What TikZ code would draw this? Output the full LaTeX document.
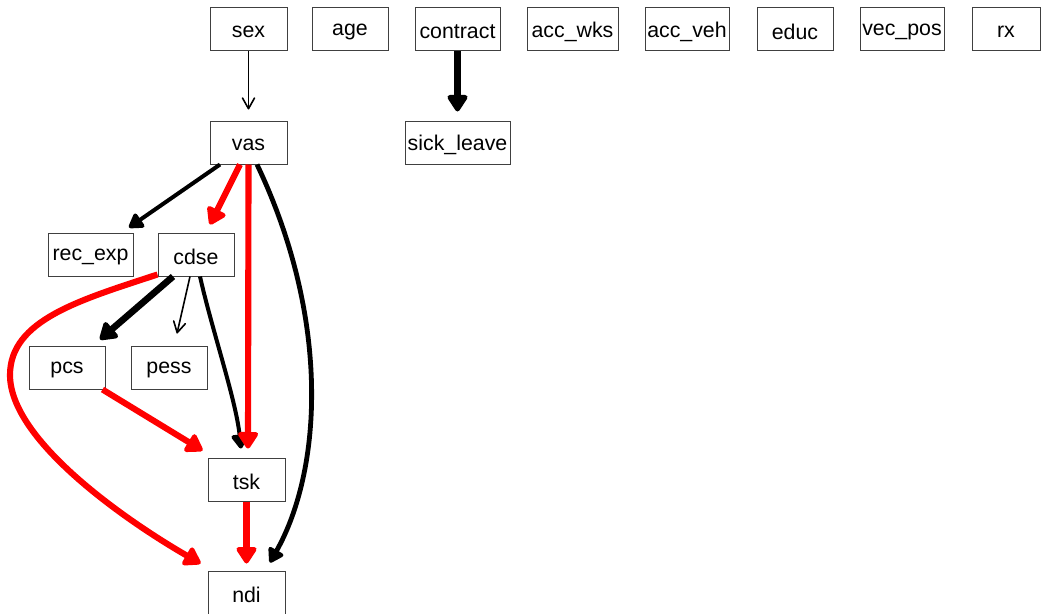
\documentclass[tikz,border=0pt]{standalone}
\usepackage{fontspec}
\setmainfont{Liberation Sans}
\usetikzlibrary{arrows.meta,calc}

\begin{document}
\begin{tikzpicture}[x=0.75pt,y=-0.75pt,
  box/.style={draw=black!75, line width=0.75pt, inner sep=0pt,
    minimum width=#1*0.75pt, minimum height=32.25pt,
    font=\fontsize{16}{19}\selectfont,
    % set the label a little low inside its box, keeping the box size
    execute at begin node={\setbox0=\hbox\bgroup},
    execute at end node={\egroup\raisebox{-1.9pt}[\ht0][\dp0]{\copy0}}},
  box/.default=77,
  lnthin/.style={line width=1.2pt, -{Straight Barb[length=8pt,width=9pt,round]}},
  lnmid/.style={line width=3pt, -{Triangle[length=12pt,width=14pt,round]}},
  lnblk/.style={line width=3.6pt, -{Triangle[length=12pt,width=14pt,round]}},
  lnred/.style={red, line width=4.6pt, -{Triangle[length=14pt,width=17pt,round]}},
  lnheavy/.style={line width=5pt, -{Triangle[length=14pt,width=17pt,round]}},
]
\useasboundingbox[fill=white] (0,0) rectangle (1043,614);

% variables
\node[box=77] (sex)       at (248.5,29)  {sex};
\node[box=76] (age)       at (350,29)    {age};
\node[box=85] (contract)  at (457.5,29)  {contract};
\node[box=91] (accwks)    at (572.5,29)  {acc\_wks};
\node[box=84] (accveh)    at (687,29)    {acc\_veh};
\node[box=76] (educ)      at (795,29)    {educ};
\node[box=84] (vecpos)    at (902,29)    {vec\_pos};
\node[box=68] (rx)        at (1006,29)   {rx};
\node[box=77] (vas)       at (248.5,142.5) {vas};
\node[box=105] (sickleave) at (457.5,142.5) {sick\_leave};
\node[box=85] (recexp)    at (90.5,254.5)  {rec\_exp};
\node[box=76] (cdse)      at (196,254.5)   {cdse};
\node[box=76] (pcs)       at (67,367.5)    {pcs};
\node[box=76] (pess)      at (169,367.5)   {pess};
\node[box=77] (tsk)       at (246.5,479.5) {tsk};
\node[box=77] (ndi)       at (246.5,592.5) {ndi};

% directed links
\draw[lnthin] (sex.south) -- ($(vas.north)+(0,-11)$);
\draw[lnheavy] (contract.south) -- ($(sickleave.north)+(0,-9)$);
\draw[lnmid] ($(vas.south)+(-28.5,0)$) -- ($(recexp.north)+(38.5,-5)$);
\draw[lnred] ($(vas.south)+(-8.5,0)$) -- ($(cdse.north)+(14,-8)$);
\draw[lnblk] ($(vas.south)+(8.5,0)$) .. controls (331,320) and (322,470) .. ($(ndi.north)+(23.5,-8)$);
\draw[lnheavy] ($(cdse.south)+(-23,0)$) -- ($(pcs.north)+(33,-6)$);
\draw[lnthin] ($(cdse.south)+(-6,0)$) -- ($(pess.north)+(8,-12)$);
\draw[lnmid] ($(cdse.south)+(4,0)$) .. controls (212,330) and (236,400) .. ($(tsk.north)+(-5.5,-9)$);
\draw[lnred] (vas.south) -- ($(tsk.north)+(1.5,-9)$);
\draw[lnred] ($(cdse.south west)+(0,-2)$) .. controls (80,300) and (10,320) .. (10,375)
  .. controls (10,440) and (125,520) .. ($(ndi.north west)+(-7,-7)$);
\draw[lnred] ($(pcs.south east)+(-3,0)$) -- ($(tsk.north west)+(-5,-7)$);
\draw[lnred] (tsk.south) -- ($(ndi.north)+(0,-7)$);
\end{tikzpicture}
\end{document}
